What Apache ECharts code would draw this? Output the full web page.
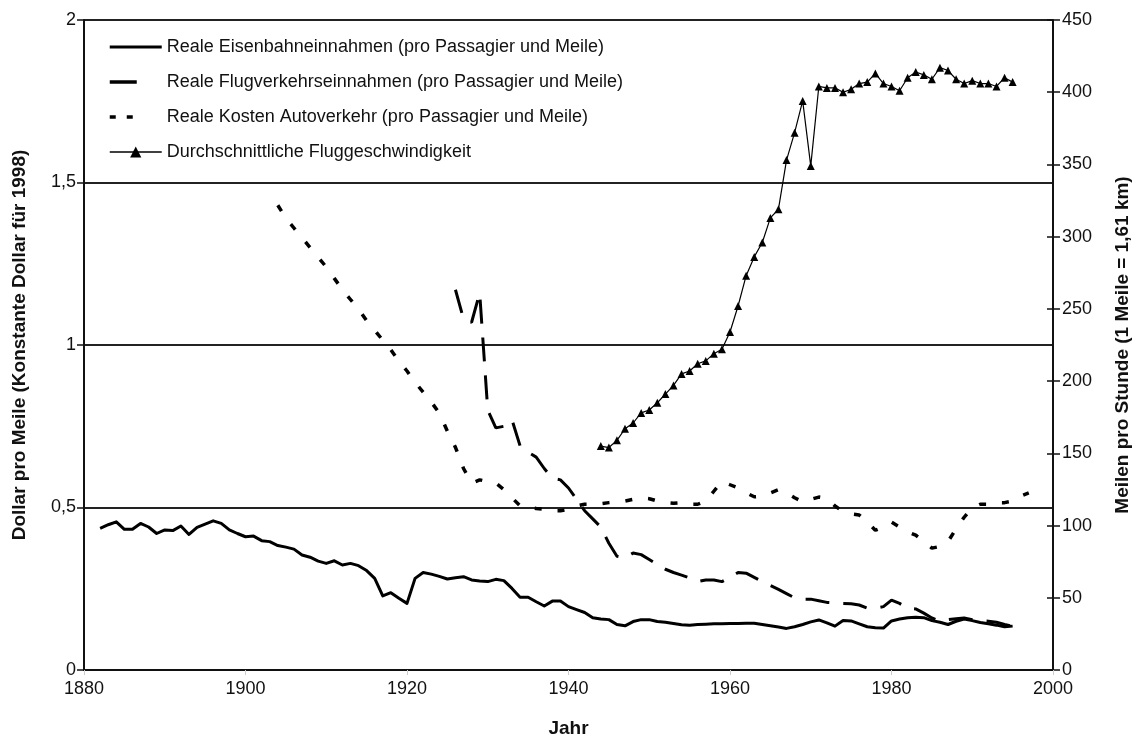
<!DOCTYPE html>
<html>
<head>
<meta charset="utf-8">
<script src="https://cdn.jsdelivr.net/npm/echarts@6/dist/echarts.min.js"></script>
<style>html,body{margin:0;padding:0;background:#fff;}#c{width:1140px;height:751px;}</style>
</head>
<body>
<div id="c"></div>
<script>
const xTicks = [1880, 1900, 1920, 1940, 1960, 1980, 2000];
const leftTicks = [0, 0.5, 1, 1.5, 2];
const rightTicks = [0, 50, 100, 150, 200, 250, 300, 350, 400, 450];

const railYears = [1882,1883,1884,1885,1886,1887,1888,1889,1890,1891,1892,1893,1894,1895,1896,1897,1898,1899,1900,1901,1902,1903,1904,1905,1906,1907,1908,1909,1910,1911,1912,1913,1914,1915,1916,1917,1918,1919,1920,1921,1922,1923,1924,1925,1926,1927,1928,1929,1930,1931,1932,1933,1934,1935,1936,1937,1938,1939,1940,1941,1942,1943,1944,1945,1946,1947,1948,1949,1950,1951,1952,1953,1954,1955,1956,1957,1958,1959,1960,1961,1962,1963,1964,1965,1966,1967,1968,1969,1970,1971,1972,1973,1974,1975,1976,1977,1978,1979,1980,1981,1982,1983,1984,1985,1986,1987,1988,1989,1990,1991,1992,1993,1994,1995];
const railValues = [0.436,0.447,0.456,0.433,0.433,0.451,0.44,0.42,0.431,0.429,0.443,0.417,0.439,0.449,0.459,0.451,0.431,0.42,0.41,0.412,0.398,0.395,0.383,0.378,0.372,0.354,0.347,0.335,0.328,0.336,0.323,0.328,0.321,0.306,0.282,0.228,0.238,0.221,0.205,0.282,0.3,0.295,0.288,0.28,0.284,0.287,0.277,0.274,0.272,0.279,0.275,0.251,0.224,0.224,0.21,0.197,0.212,0.212,0.195,0.186,0.177,0.161,0.157,0.155,0.14,0.136,0.149,0.155,0.155,0.149,0.147,0.143,0.139,0.138,0.14,0.141,0.142,0.142,0.143,0.143,0.144,0.144,0.14,0.136,0.132,0.128,0.133,0.14,0.148,0.154,0.145,0.135,0.152,0.151,0.142,0.133,0.13,0.129,0.151,0.157,0.161,0.162,0.161,0.152,0.147,0.14,0.15,0.157,0.152,0.146,0.142,0.138,0.133,0.135];

const airYears = [1926,1927,1928,1929,1930,1931,1932,1933,1934,1935,1936,1937,1938,1939,1940,1941,1942,1943,1944,1945,1946,1947,1948,1949,1950,1951,1952,1953,1954,1955,1956,1957,1958,1959,1960,1961,1962,1963,1964,1965,1966,1967,1968,1969,1970,1971,1972,1973,1974,1975,1976,1977,1978,1979,1980,1981,1982,1983,1984,1985,1986,1987,1988,1989,1990,1991,1992,1993,1994,1995];
const airValues = [1.17,1.08,1.07,1.16,0.8,0.745,0.75,0.77,0.69,0.67,0.655,0.62,0.59,0.585,0.56,0.525,0.49,0.465,0.44,0.39,0.35,0.345,0.36,0.355,0.34,0.325,0.31,0.3,0.292,0.283,0.272,0.277,0.277,0.272,0.285,0.3,0.298,0.285,0.272,0.26,0.248,0.235,0.222,0.218,0.218,0.213,0.208,0.207,0.205,0.204,0.2,0.19,0.19,0.195,0.215,0.205,0.19,0.188,0.175,0.16,0.15,0.155,0.158,0.16,0.155,0.152,0.15,0.147,0.14,0.135];

const carYears = [1904,1905,1906,1907,1908,1909,1910,1911,1912,1913,1914,1915,1916,1917,1918,1919,1920,1921,1922,1923,1924,1925,1926,1927,1928,1929,1930,1931,1932,1933,1934,1935,1936,1937,1938,1939,1940,1941,1942,1943,1944,1945,1946,1947,1948,1949,1950,1951,1952,1953,1954,1955,1956,1957,1958,1959,1960,1961,1962,1963,1964,1965,1966,1967,1968,1969,1970,1971,1972,1973,1974,1975,1976,1977,1978,1979,1980,1981,1982,1983,1984,1985,1986,1987,1988,1989,1990,1991,1992,1993,1994,1995,1996,1997];
const carValues = [1.43,1.39,1.36,1.33,1.3,1.27,1.24,1.205,1.17,1.14,1.11,1.075,1.045,1.015,0.985,0.95,0.92,0.885,0.855,0.825,0.79,0.735,0.685,0.62,0.575,0.585,0.58,0.575,0.555,0.53,0.505,0.5,0.497,0.495,0.49,0.49,0.495,0.505,0.51,0.51,0.512,0.515,0.518,0.52,0.525,0.53,0.527,0.52,0.515,0.513,0.515,0.51,0.51,0.52,0.55,0.58,0.57,0.56,0.545,0.533,0.535,0.545,0.555,0.545,0.53,0.518,0.525,0.532,0.528,0.505,0.487,0.48,0.477,0.455,0.43,0.44,0.455,0.44,0.425,0.415,0.395,0.375,0.38,0.395,0.435,0.47,0.5,0.51,0.51,0.515,0.515,0.52,0.535,0.545];

const speedYears = [1944,1945,1946,1947,1948,1949,1950,1951,1952,1953,1954,1955,1956,1957,1958,1959,1960,1961,1962,1963,1964,1965,1966,1967,1968,1969,1970,1971,1972,1973,1974,1975,1976,1977,1978,1979,1980,1981,1982,1983,1984,1985,1986,1987,1988,1989,1990,1991,1992,1993,1994,1995];
const speedValues = [155,154,159,167,171,178,180,185,191,197,205,207,212,214,219,222,234,252,273,286,296,313,319,353,372,394,349,404,403,403,400,402,406,407,413,406,404,401,410,414,412,409,417,415,409,406,408,406,406,404,410,407];

const names = [
  'Reale Eisenbahneinnahmen (pro Passagier und Meile)',
  'Reale Flugverkehrseinnahmen (pro Passagier und Meile)',
  'Reale Kosten Autoverkehr (pro Passagier und Meile)',
  'Durchschnittliche Fluggeschwindigkeit'
];

const zip = (xs, ys) => xs.map((x, i) => [x, ys[i]]);
const FONT = 'Liberation Sans, Arial, sans-serif';
const FS = 18;
const TITLE_FS = 19;
const noMarker = {color: 'rgba(0,0,0,0)', opacity: 0, borderWidth: 0};

const chart = echarts.init(document.getElementById('c'), null, {renderer: 'canvas'});
chart.setOption({
  animation: false,
  backgroundColor: '#fff',
  textStyle: {fontFamily: FONT, color: '#000'},
  grid: {left: 84, right: 87, top: 20, bottom: 81, containLabel: false},
  legend: {
    orient: 'vertical', left: 103, top: 33, itemWidth: 52, itemHeight: 14, itemGap: 17,
    textStyle: {fontFamily: FONT, fontSize: FS, color: '#111'},
    data: [
      {name: names[0], itemStyle: noMarker, lineStyle: {width: 3, color: '#000', type: 'solid'}},
      {name: names[1], itemStyle: noMarker, lineStyle: {width: 3.5, color: '#000', type: [27, 40]}},
      {name: names[2], itemStyle: noMarker, lineStyle: {width: 3.5, color: '#000', type: [6, 11, 6, 40]}},
      {name: names[3], lineStyle: {width: 1.5, color: '#000', type: 'solid'}}
    ]
  },
  xAxis: {
    type: 'value', min: xTicks[0], max: xTicks[xTicks.length - 1], interval: 20,
    name: 'Jahr', nameLocation: 'middle', nameGap: 49,
    nameTextStyle: {fontFamily: FONT, fontSize: TITLE_FS, fontWeight: 'bold', color: '#111'},
    axisLine: {show: true, onZero: false, lineStyle: {color: '#111', width: 2}},
    axisTick: {show: true, length: 5, lineStyle: {color: '#ccc', width: 1}},
    axisLabel: {fontFamily: FONT, fontSize: FS, color: '#111', margin: 10, formatter: v => String(v)},
    splitLine: {show: false}
  },
  yAxis: [
    {
      type: 'value', min: leftTicks[0], max: leftTicks[leftTicks.length - 1], interval: 0.5,
      position: 'left',
      name: 'Dollar pro Meile (Konstante Dollar für 1998)', nameLocation: 'middle', nameGap: 55,
      nameTextStyle: {fontFamily: FONT, fontSize: TITLE_FS, fontWeight: 'bold', color: '#111'},
      axisLine: {show: true, lineStyle: {color: '#111', width: 2}},
      axisTick: {show: true, length: 7, lineStyle: {color: '#111', width: 1.5}},
      axisLabel: {fontFamily: FONT, fontSize: FS, color: '#111', margin: 8,
        formatter: v => String(v).replace('.', ',')},
      splitLine: {show: true, lineStyle: {color: '#222', width: 2}}
    },
    {
      type: 'value', min: rightTicks[0], max: rightTicks[rightTicks.length - 1], interval: 50,
      position: 'right',
      name: 'Meilen pro Stunde (1 Meile = 1,61 km)', nameLocation: 'middle', nameGap: 60, nameRotate: 90,
      nameTextStyle: {fontFamily: FONT, fontSize: TITLE_FS, fontWeight: 'bold', color: '#111'},
      axisLine: {show: true, lineStyle: {color: '#111', width: 2}},
      axisTick: {show: true, length: 7, lineStyle: {color: '#111', width: 1.5}},
      axisLabel: {fontFamily: FONT, fontSize: FS, color: '#111', margin: 9},
      splitLine: {show: false}
    },
    {
      type: 'value', min: rightTicks[0], max: rightTicks[rightTicks.length - 1], interval: 50,
      position: 'right',
      axisLine: {show: false},
      axisTick: {show: true, inside: true, length: 6, lineStyle: {color: '#111', width: 1.5}},
      axisLabel: {show: false},
      splitLine: {show: false}
    }
  ],
  series: [
    {
      name: names[0], type: 'line', yAxisIndex: 0, data: zip(railYears, railValues),
      symbol: 'none', color: '#000',
      lineStyle: {color: '#000', width: 3, join: 'round'}
    },
    {
      name: names[1], type: 'line', yAxisIndex: 0, data: zip(airYears, airValues),
      symbol: 'none', color: '#000',
      lineStyle: {color: '#000', width: 3, type: [24, 14]}
    },
    {
      name: names[2], type: 'line', yAxisIndex: 0, data: zip(carYears, carValues),
      symbol: 'none', color: '#000',
      lineStyle: {color: '#000', width: 3.5, type: [7, 16]}
    },
    {
      name: names[3], type: 'line', yAxisIndex: 1, data: zip(speedYears, speedValues),
      symbol: 'triangle', symbolSize: 8, showAllSymbol: true, color: '#000',
      itemStyle: {color: '#000'},
      lineStyle: {color: '#000', width: 1.2}
    }
  ]
});
</script>
</body>
</html>
